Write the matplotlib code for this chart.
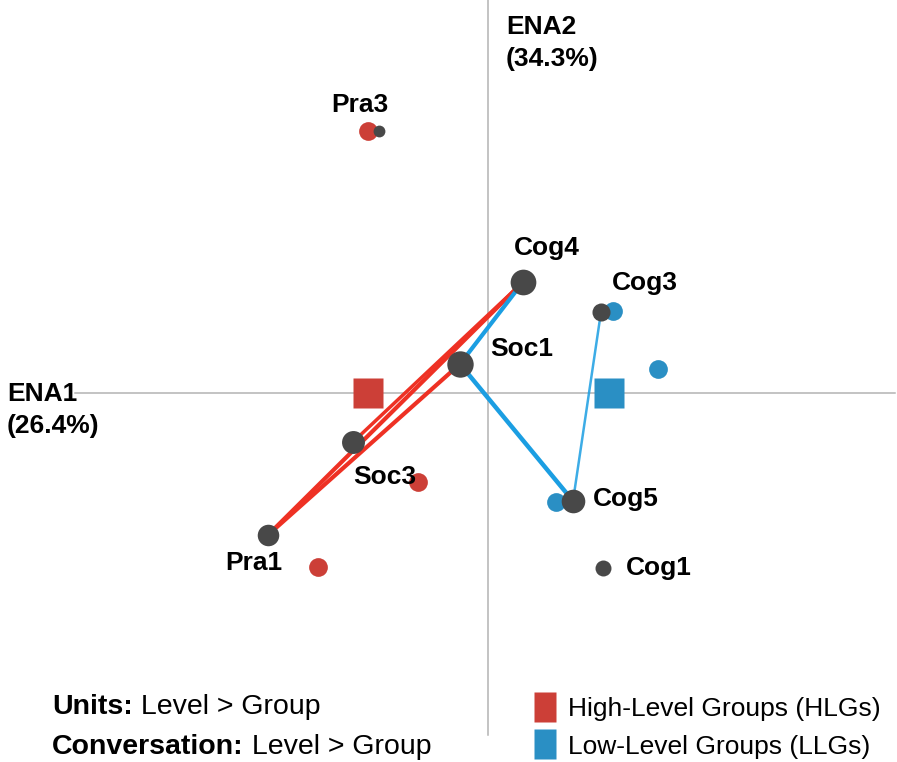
import matplotlib.pyplot as plt
from matplotlib.lines import Line2D

plt.rcParams['font.family'] = ['Liberation Sans', 'DejaVu Sans']

# ENA node positions (dark nodes)
nodes = ['Pra3', 'Cog4', 'Cog3', 'Soc1', 'Soc3', 'Pra1', 'Cog5', 'Cog1']
node_x = [-0.436, 0.140, 0.452, -0.112, -0.540, -0.880, 0.340, 0.460]
node_y = [1.048, 0.444, 0.324, 0.116, -0.196, -0.568, -0.432, -0.700]
node_size = [8.5, 18.5, 13, 19, 16.5, 15.5, 17, 11.5]

# group points (units)
hlg_x = [-0.480, -0.280, -0.680]
hlg_y = [1.048, -0.356, -0.696]
llg_x = [0.500, 0.680, 0.272]
llg_y = [0.328, 0.096, -0.436]

# group means
hlg_mean = (-0.480, 0.0)
llg_mean = (0.484, 0.0)

# network edges: (node a, node b, width, alpha)
hlg_edges = [('Cog4', 'Pra1', 3.0, 1.0), ('Cog4', 'Soc3', 2.5, 1.0),
             ('Soc1', 'Pra1', 3.0, 1.0)]
llg_edges = [('Cog4', 'Soc1', 3.0, 1.0), ('Soc1', 'Cog5', 3.2, 1.0),
             ('Cog3', 'Cog5', 1.8, 0.85)]

# label offsets in pixels
label_dx = [-19, 24, 44, 62, 32, -14, 53, 56]
label_dy = [26, 34, 29, 15, -35, -28, 2, 0]

RED = '#cc3f37'
RED_LINE = '#ee3124'
BLUE = '#2a8fc4'
BLUE_LINE = '#1b9ee2'
DARK = '#484848'

scale = 250.0
fig = plt.figure(figsize=(8.97, 7.62), dpi=100)
ax = fig.add_axes([0, 0, 1, 1])
ax.set_xlim(-488 / scale, 409 / scale)
ax.set_ylim(-369 / scale, 393 / scale)
ax.axis('off')

# axes lines
ax.plot([-413 / scale, 407 / scale], [0, 0], color='#b3b3b3', lw=1.1, zorder=1)
ax.plot([0, 0], [-342 / scale, 393 / scale], color='#b3b3b3', lw=1.1, zorder=1)

pos = {n: (x, y) for n, x, y in zip(nodes, node_x, node_y)}
for a, b, w, al in hlg_edges:
    ax.plot([pos[a][0], pos[b][0]], [pos[a][1], pos[b][1]], color=RED_LINE,
            lw=w, alpha=al, solid_capstyle='butt', zorder=2)
for a, b, w, al in llg_edges:
    ax.plot([pos[a][0], pos[b][0]], [pos[a][1], pos[b][1]], color=BLUE_LINE,
            lw=w, alpha=al, solid_capstyle='butt', zorder=2)

ax.plot(hlg_x, hlg_y, 'o', ms=13.5, color=RED, mec='none', zorder=3)
ax.plot(llg_x, llg_y, 'o', ms=13.5, color=BLUE, mec='none', zorder=3)
ax.plot(*hlg_mean, 's', ms=21, color=RED, mec='none', zorder=3)
ax.plot(*llg_mean, 's', ms=21, color=BLUE, mec='none', zorder=3)

for n, x, y, s, dx, dy in zip(nodes, node_x, node_y, node_size, label_dx, label_dy):
    ax.plot(x, y, 'o', ms=s, color=DARK, mec='none', zorder=4)
    ax.annotate(n, (x, y), xytext=(dx, dy), textcoords='offset pixels',
                ha='center', va='center', fontsize=19, fontweight='bold', zorder=5)

# axis titles
fig.text(506 / 897, 1 - 43 / 762, 'ENA2\n(34.3%)', ha='left', va='center',
         fontsize=19, fontweight='bold', linespacing=1.45)
fig.text(7 / 897, 1 - 410 / 762, 'ENA1\n(26.4%)', ha='left', va='center',
         fontsize=19, fontweight='bold', linespacing=1.45)

# footer
for label, yp in [('Units:', 707), ('Conversation:', 747)]:
    t = fig.text(52 / 897, 1 - yp / 762, label, ha='left', va='center',
                 fontsize=20.5, fontweight='bold')
    ax.annotate(' Level > Group', xy=(1, 0.5), xycoords=t, ha='left',
                va='center', fontsize=20.5)

rect = [(-0.72, -1), (0.72, -1), (0.72, 1), (-0.72, 1)]
leg = fig.legend(handles=[
    Line2D([], [], marker=rect, ls='none', ms=22, color=RED, mec='none',
           label='High-Level Groups (HLGs)'),
    Line2D([], [], marker=rect, ls='none', ms=22, color=BLUE, mec='none',
           label='Low-Level Groups (LLGs)')],
    loc='center left', bbox_to_anchor=(503 / 897, 1 - 728 / 762),
    frameon=False, prop={'size': 19},
    handletextpad=0.15, labelspacing=0.5, handlelength=1.4)

fig.savefig('out.png', dpi=100)
